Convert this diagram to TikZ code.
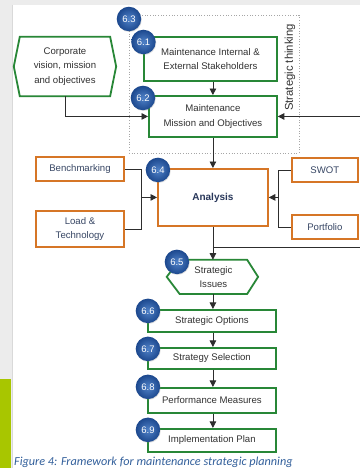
\documentclass[tikz,border=0pt]{standalone}
\usepackage{fontspec}
\setmainfont{Liberation Sans}
\newfontfamily\capfont{Carlito}
\usetikzlibrary{arrows.meta,shadows}

\definecolor{boxgreen}{RGB}{40,135,55}
\definecolor{boxorange}{RGB}{214,118,38}
\definecolor{ballin}{RGB}{80,130,200}
\definecolor{ballout}{RGB}{28,72,142}
\definecolor{txtgray}{RGB}{50,50,50}
\definecolor{txtslate}{RGB}{55,70,100}
\definecolor{navy}{RGB}{40,55,90}
\definecolor{pagegray}{RGB}{236,236,236}
\definecolor{lime}{RGB}{168,198,0}
\definecolor{captionblue}{RGB}{50,95,155}
\definecolor{wire}{RGB}{45,45,45}

\tikzset{
  greenbox/.style={draw=boxgreen, line width=1.8pt, fill=white, rectangle,
    align=center, text=txtgray, font=\fontsize{9.6}{14.5}\selectfont, inner sep=0pt},
  orangebox/.style={draw=boxorange, line width=1.8pt, fill=white, rectangle,
    align=center, text=txtslate, font=\fontsize{9.6}{14.5}\selectfont, inner sep=0pt},
  hexlabel/.style={rectangle, align=center, text=txtgray,
    font=\fontsize{9.6}{14.5}\selectfont, inner sep=0pt},
  hexline/.style={draw=boxgreen, line width=1.8pt, fill=white, line join=miter},
  badge/.style={circle, minimum size=24.5pt, inner sep=0pt,
    inner color=ballin, outer color=ballout, text=white,
    font=\fontsize{9.5}{11}\selectfont,
    drop shadow={opacity=0.25, shadow xshift=0.6pt, shadow yshift=-0.8pt}},
  wirestyle/.style={draw=wire, line width=0.8pt},
  arr/.style={wirestyle, -{Triangle[length=6.5pt,width=6.5pt]}},
}

\begin{document}
\begin{tikzpicture}[x=1pt,y=-1pt]
  % page background and side strip
  \fill[pagegray] (0,0) rectangle (360,468);
  \fill[white] (12,5) rectangle (360,468);
  \draw[gray!30, line width=0.4pt] (12,5) -- (12,468);
  \fill[lime] (0,379) rectangle (11,468);
  \useasboundingbox (0,0) rectangle (360,468);

  % strategic thinking frame
  \node[draw=gray!70, dotted, line width=0.7pt, minimum width=170pt,
        minimum height=138pt, inner sep=0pt] (st) at (214,84) {};
  \node[rotate=90, text=txtgray, font=\fontsize{11.3}{13}\selectfont]
        (stl) at (290,67.5) {Strategic thinking};

  % corporate hexagon
  \node[hexlabel, minimum width=102pt, minimum height=59pt] (corp) at (65,66.5) {};
  \draw[hexline] (corp.west) -- ([xshift=6pt]corp.north west)
        -- ([xshift=-6pt]corp.north east) -- (corp.east)
        -- ([xshift=-6pt]corp.south east) -- ([xshift=6pt]corp.south west) -- cycle;
  \node[hexlabel] (corpt) at (corp) {Corporate\\vision, mission\\and objectives};

  % upper boxes
  \node[greenbox, minimum width=133pt, minimum height=44pt] (m61) at (210.5,59)
        {Maintenance Internal \&\\External Stakeholders};
  \node[greenbox, minimum width=128pt, minimum height=41pt] (m62) at (213,116.5)
        {Maintenance\\Mission and Objectives};

  % analysis block
  \node[orangebox, minimum width=110pt, minimum height=57pt, text=navy,
        font=\fontsize{10}{12}\selectfont\bfseries] (ana) at (213,197.5) {Analysis};
  \node[orangebox, minimum width=88pt, minimum height=24pt] (bench) at (80,169) {Benchmarking};
  \node[orangebox, minimum width=88pt, minimum height=36pt] (load) at (80,229) {Load \&\\Technology};
  \node[orangebox, minimum width=66pt, minimum height=24pt] (swot) at (325,170) {SWOT};
  \node[orangebox, minimum width=66pt, minimum height=24pt] (port) at (325,227) {Portfolio};

  % strategic issues hexagon
  \node[hexlabel, minimum width=91pt, minimum height=34pt] (s65) at (212.5,277) {};
  \draw[hexline] (s65.west) -- ([xshift=13pt]s65.north west)
        -- ([xshift=-11pt]s65.north east) -- (s65.east)
        -- ([xshift=-11pt]s65.south east) -- ([xshift=13pt]s65.south west) -- cycle;
  \node[hexlabel] (s65t) at ([xshift=1pt]s65.center) {Strategic\\Issues};

  % lower chain
  \node[greenbox, minimum width=128pt, minimum height=22pt] (m66) at (212,321) {Strategic Options};
  \node[greenbox, minimum width=128pt, minimum height=21pt] (m67) at (212,358.5) {Strategy Selection};
  \node[greenbox, minimum width=128pt, minimum height=25pt] (m68) at (212,400.5) {Performance Measures};
  \node[greenbox, minimum width=128pt, minimum height=23pt] (m69) at (212,440.5) {Implementation Plan};

  % junctions and open ends
  \coordinate (jl) at (141,197.5);
  \coordinate (jr) at (279,197.5);
  \coordinate (fbin) at (360,116.5);
  \coordinate (tap) at (213,248);
  \coordinate (fbout) at (360,248);

  % connectors
  \draw[arr] (corp.south) |- (m62.west);
  \draw[arr] (m62.north |- m61.south) -- (m62.north);
  \draw[arr] (fbin) -- (m62.east);
  \draw[arr] (m62.south) -- (ana.north);
  \draw[wirestyle] (bench.east) -| (jl) |- (load.east);
  \draw[arr] (jl) -- (ana.west);
  \draw[wirestyle] (swot.west) -| (jr) |- (port.west);
  \draw[arr] (jr) -- (ana.east);
  \draw[arr] (ana.south) -- (ana.south |- s65.north);
  \draw[wirestyle] (tap) -- (fbout);
  \draw[arr] (ana.south |- s65.south) -- (ana.south |- m66.north);
  \draw[arr] (ana.south |- m66.south) -- (ana.south |- m67.north);
  \draw[arr] (ana.south |- m67.south) -- (ana.south |- m68.north);
  \draw[arr] (ana.south |- m68.south) -- (ana.south |- m69.north);

  % step badges
  \node[badge] (b63) at (129,19) {6.3};
  \node[badge] (b61) at (143.5,42) {6.1};
  \node[badge] (b62) at (143,98) {6.2};
  \node[badge] (b64) at (158,170) {6.4};
  \node[badge] (b65) at (177,262) {6.5};
  \node[badge] (b66) at (148,311) {6.6};
  \node[badge] (b67) at (148,349) {6.7};
  \node[badge] (b68) at (148,387) {6.8};
  \node[badge] (b69) at (148,430) {6.9};

  % caption
  \node[anchor=base west, inner sep=0pt, text=captionblue,
        font=\capfont\itshape\fontsize{12.2}{14}\selectfont] (cap) at (14,465.5)
        {Figure 4: Framework for maintenance strategic planning};
\end{tikzpicture}
\end{document}
